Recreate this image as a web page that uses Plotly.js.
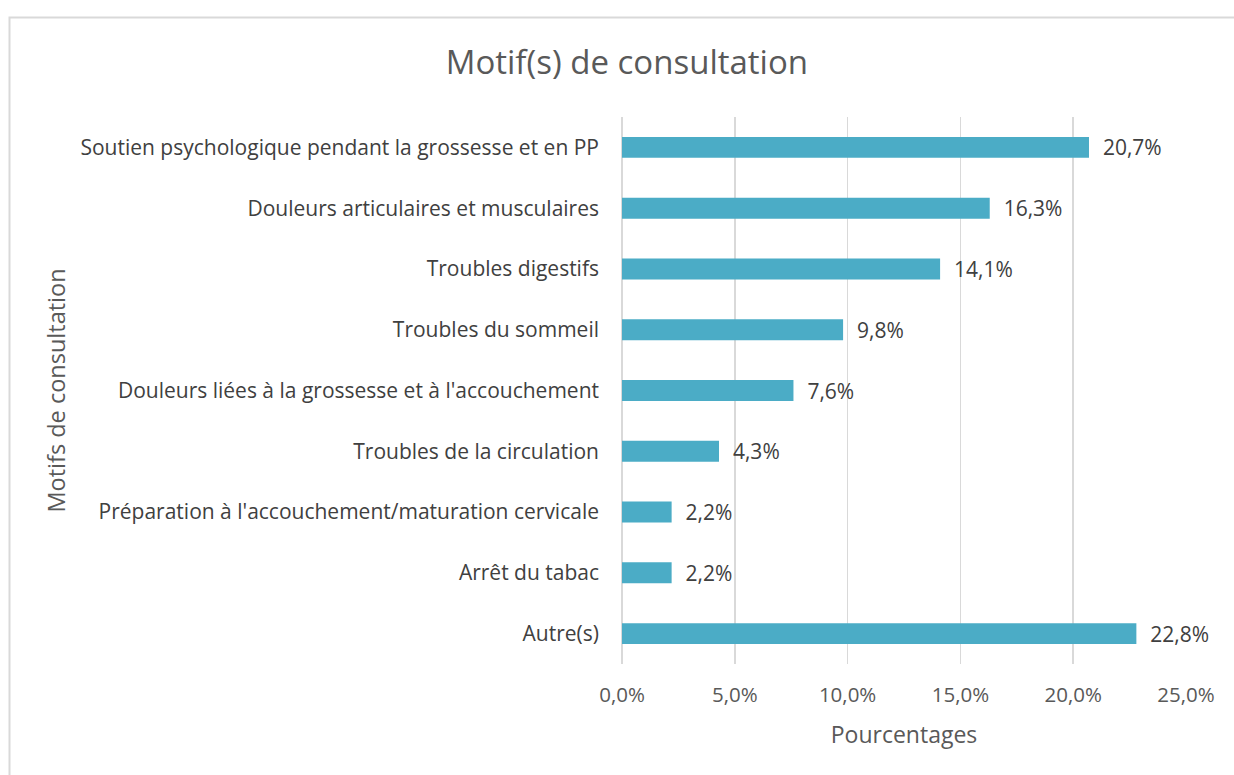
<!DOCTYPE html>
<html>
<head>
<meta charset="utf-8">
<script src="https://cdn.plot.ly/plotly-3.0.1.min.js"></script>
<style>html,body{margin:0;padding:0;background:#fff;}#chart{width:1234px;height:775px;}</style>
</head>
<body>
<div id="chart"></div>
<script>
const categories = [
  "Soutien psychologique pendant la grossesse et en PP",
  "Douleurs articulaires et musculaires",
  "Troubles digestifs",
  "Troubles du sommeil",
  "Douleurs liées à la grossesse et à l'accouchement",
  "Troubles de la circulation",
  "Préparation à l'accouchement/maturation cervicale",
  "Arrêt du tabac",
  "Autre(s)"
];
const percentages = [0.207, 0.163, 0.141, 0.098, 0.076, 0.043, 0.022, 0.022, 0.228];
const xTickValues = [0, 0.05, 0.10, 0.15, 0.20, 0.25];

const FONT = "'Open Sans', sans-serif";

const trace = {
  type: 'bar',
  orientation: 'h',
  y: categories,
  x: percentages,
  marker: {color: '#4BACC6'},
  texttemplate: '  %{x:.1%}',
  textposition: 'outside',
  constraintext: 'none',
  cliponaxis: false,
  textfont: {family: FONT, size: 21, color: '#404040'},
  hoverinfo: 'none'
};

const layout = {
  width: 1234,
  height: 775,
  separators: ', ',
  paper_bgcolor: '#ffffff',
  plot_bgcolor: '#ffffff',
  margin: {l: 622, r: 48, t: 117, b: 111},
  showlegend: false,
  bargap: 0.655,
  font: {family: FONT, size: 21, color: '#595959'},
  title: {
    text: 'Motif(s) de consultation',
    font: {family: FONT, size: 33, color: '#595959'},
    x: 0.508, xref: 'container', xanchor: 'center',
    y: 0.92, yref: 'container', yanchor: 'middle'
  },
  xaxis: {
    range: [0, 0.25],
    tickvals: xTickValues,
    tickformat: '.1%',
    showgrid: true,
    gridcolor: '#d9d9d9',
    gridwidth: 1.5,
    zeroline: true,
    zerolinecolor: '#d9d9d9',
    zerolinewidth: 1.5,
    showline: false,
    ticks: '',
    ticklabelstandoff: 16,
    tickfont: {family: FONT, size: 20.5, color: '#595959'},
    title: {text: 'Pourcentages', font: {family: FONT, size: 23, color: '#595959'}, standoff: 20},
    automargin: false,
    fixedrange: true
  },
  yaxis: {
    autorange: 'reversed',
    showgrid: false,
    zeroline: false,
    showline: false,
    ticks: '',
    ticklabelstandoff: 22,
    tickfont: {family: FONT, size: 21, color: '#404040'},
    title: {text: 'Motifs de consultation', font: {family: FONT, size: 23.5, color: '#595959'}, standoff: 8},
    automargin: false,
    fixedrange: true
  },
  shapes: [{
    type: 'rect', xref: 'paper', yref: 'paper',
    x0: (9.5 - 622) / 564, x1: (1245 - 622) / 564,
    y0: (664 - 785) / 547, y1: (664 - 17.5) / 547,
    line: {color: '#d9d9d9', width: 2},
    fillcolor: 'rgba(0,0,0,0)',
    layer: 'below'
  }]
};

Plotly.newPlot('chart', [trace], layout, {displayModeBar: false, staticPlot: true});
</script>
</body>
</html>
